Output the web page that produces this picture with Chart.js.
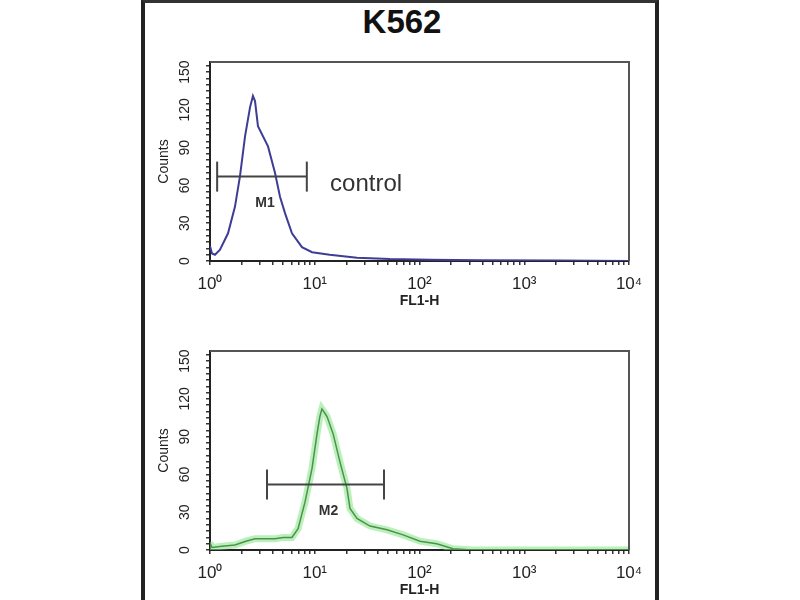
<!DOCTYPE html>
<html>
<head>
<meta charset="utf-8">
<script src="https://cdn.jsdelivr.net/npm/chart.js@4/dist/chart.umd.min.js"></script>
<style>
  html, body { margin: 0; padding: 0; background: #fff; }
  body { width: 800px; height: 600px; position: relative; overflow: hidden; }
  #frame { position: absolute; left: 141px; top: 0; width: 510px; height: 600px;
           border-left: 4px solid #222; border-right: 4px solid #222; border-top: 3px solid #333; }
  #title { position: absolute; left: 2px; width: 800px; top: 3px; text-align: center;
           font: bold 33px 'Liberation Sans', Arial, sans-serif; color: #111; }
  canvas { position: absolute; left: 0; }
</style>
</head>
<body>
<div id="frame"></div>
<div id="title">K562</div>
<canvas id="topPanel" width="800" height="311" style="top:0"></canvas>
<canvas id="bottomPanel" width="800" height="311" style="top:289px"></canvas>
<script>
const FONT = "'Liberation Sans', Arial, sans-serif";

// axis ticks
const xTickValues = [1, 10, 100, 1000, 10000];
const xTickLabels = ['10⁰', '10¹', '10²', '10³', '10⁴'];
const yTickValues = [0, 30, 60, 90, 120, 150];

// control histogram (blue)
const controlFL1 = [1.0, 1.045, 1.116, 1.246, 1.486, 1.73, 1.93, 2.16, 2.41, 2.57, 2.69, 2.87, 3.58, 4.17,
                    4.66, 5.2, 6.06, 7.55, 9.43, 13.9, 25.3, 52, 126, 380, 2200, 10000];
const controlCounts = [12, 6, 5, 9, 22, 43, 67, 99, 122, 131, 127, 107, 91, 70,
                       51, 38, 22, 11, 7, 5, 2.5, 1.5, 1, 0.5, 0.3, 0];

// sample histogram (green)
const sampleFL1 = [1.0, 1.045, 1.3, 1.73, 2.2, 2.69, 3.3, 4.17, 5.0, 6.06, 6.93, 8.07, 9.43, 10.5, 11.2,
                   11.7, 12.4, 13.1, 15.0, 17.4, 20.3, 21.7, 25.3, 33.7, 49, 69.7, 101, 146, 209, 322, 1000, 10000];
const sampleCounts = [6, 2, 3, 4, 7, 9, 9, 9, 10, 10, 17, 38, 65, 92, 106,
                      112, 109, 106, 92, 70, 49, 33, 25, 19, 16, 12, 7, 5, 1, 0, 0, 0];

// gate markers
const m1Range = [1.17, 8.4];
const m1Level = 67;
const m2Range = [3.5, 45.8];
const m2Level = 52;

function toPoints(xs, ys) {
    return xs.map((x, i) => ({ x: x, y: ys[i] }));
}

function markerDataset(range, level) {
    return {
        data: [{ x: range[0], y: level }, { x: range[1], y: level }],
        showLine: true,
        borderColor: '#444',
        borderWidth: 2,
        pointStyle: 'line',
        rotation: 90,
        pointRadius: 15,
        pointBorderColor: '#444',
        pointBorderWidth: 2,
        order: 0
    };
}

const panelDecor = {
    id: 'panelDecor',
    afterDraw(chart, args, opts) {
        const { ctx, chartArea, scales } = chart;
        ctx.save();
        // top and right edges of the plot box
        ctx.strokeStyle = '#555';
        ctx.lineWidth = 2;
        ctx.beginPath();
        ctx.moveTo(chartArea.left, chartArea.top);
        ctx.lineTo(chartArea.right, chartArea.top);
        ctx.lineTo(chartArea.right, chartArea.bottom);
        ctx.stroke();

        // rotated y tick labels
        ctx.fillStyle = '#222';
        ctx.font = '14px ' + FONT;
        ctx.textAlign = 'center';
        ctx.textBaseline = 'middle';
        yTickValues.forEach(v => {
            const y = scales.y.getPixelForValue(v);
            ctx.save();
            ctx.translate(chartArea.left - 25, y);
            ctx.rotate(-Math.PI / 2);
            ctx.fillText(String(v), 0, 0);
            ctx.restore();
        });

        // gate label under the marker
        const mx = scales.x.getPixelForValue(Math.sqrt(opts.range[0] * opts.range[1]));
        const my = scales.y.getPixelForValue(opts.level);
        ctx.font = 'bold 14px ' + FONT;
        ctx.fillStyle = '#333';
        ctx.fillText(opts.label, mx + 3, my + 27);

        if (opts.note) {
            ctx.font = '24px ' + FONT;
            ctx.textAlign = 'left';
            ctx.fillText(opts.note.text, scales.x.getPixelForValue(opts.note.x), scales.y.getPixelForValue(opts.note.y));
        }
        ctx.restore();
    }
};

function buildPanel(canvasId, datasets, decor) {
    const ctx = document.getElementById(canvasId);
    return new Chart(ctx, {
        type: 'scatter',
        data: { datasets: datasets },
        plugins: [panelDecor],
        options: {
            responsive: false,
            animation: false,
            layout: { padding: { left: 150, right: 171, top: 62, bottom: 1 } },
            elements: { point: { radius: 0 }, line: { tension: 0 } },
            scales: {
                x: {
                    type: 'logarithmic',
                    min: 1,
                    max: 10000,
                    afterFit: s => { s.height = 49; },
                    afterBuildTicks: s => {
                        const ticks = [];
                        for (let d = 0; d < 4; d++) {
                            for (let k = 1; k < 10; k++) ticks.push({ value: k * Math.pow(10, d) });
                        }
                        ticks.push({ value: 10000 });
                        s.ticks = ticks;
                    },
                    grid: { drawOnChartArea: false, drawTicks: true, tickLength: 4, color: '#333', lineWidth: 1.5 },
                    border: { color: '#222', width: 2 },
                    ticks: {
                        autoSkip: false,
                        maxRotation: 0,
                        padding: 9,
                        color: '#222',
                        font: { family: FONT, size: 17 },
                        callback: v => {
                            const i = xTickValues.indexOf(v);
                            return i >= 0 ? xTickLabels[i] : '';
                        }
                    },
                    title: {
                        display: true,
                        text: 'FL1-H',
                        color: '#222',
                        font: { family: FONT, size: 14, weight: 'bold' },
                        padding: { top: 0, bottom: 0 }
                    }
                },
                y: {
                    min: 0,
                    max: 158,
                    afterFit: s => { s.width = 60; },
                    afterBuildTicks: s => {
                        const ticks = [];
                        for (let v = 0; v <= 155; v += 5) ticks.push({ value: v });
                        s.ticks = ticks;
                    },
                    grid: { drawOnChartArea: false, drawTicks: true, tickLength: 4, color: '#333', lineWidth: 1.5 },
                    border: { color: '#222', width: 2 },
                    ticks: { display: false },
                    title: {
                        display: true,
                        text: 'Counts',
                        color: '#222',
                        font: { family: FONT, size: 14 },
                        padding: { top: 6, bottom: 0 }
                    }
                }
            },
            plugins: {
                legend: { display: false },
                tooltip: { enabled: false },
                panelDecor: decor
            }
        }
    });
}

buildPanel('topPanel', [
    markerDataset(m1Range, m1Level),
    {
        data: toPoints(controlFL1, controlCounts),
        showLine: true,
        borderColor: '#3d3d95',
        borderWidth: 2,
        pointRadius: 0,
        order: 1
    }
], { range: m1Range, level: m1Level, label: 'M1', note: { text: 'control', x: 14, y: 61 } });

buildPanel('bottomPanel', [
    markerDataset(m2Range, m2Level),
    {
        data: toPoints(sampleFL1, sampleCounts),
        showLine: true,
        borderColor: '#4f8f4f',
        borderWidth: 1.5,
        pointRadius: 0,
        order: 1
    },
    {
        data: toPoints(sampleFL1, sampleCounts),
        showLine: true,
        borderColor: 'rgba(130, 230, 130, 0.55)',
        borderWidth: 7,
        pointRadius: 0,
        order: 2
    }
], { range: m2Range, level: m2Level, label: 'M2' });
</script>
</body>
</html>
